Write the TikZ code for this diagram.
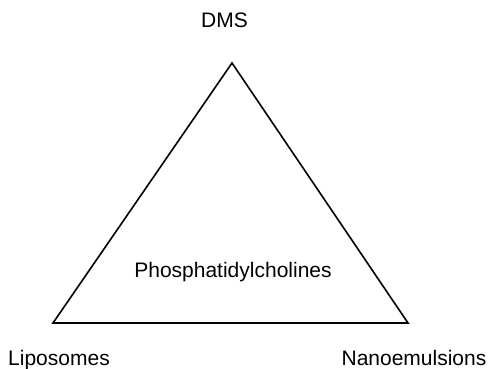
\documentclass[tikz,border=0pt]{standalone}
\usepackage{fontspec}
\setmainfont{Liberation Sans}
\usepackage{tikz}

\begin{document}
\begin{tikzpicture}[x=1pt, y=-1pt,
  corner/.style={font=\fontsize{21}{25}\selectfont, anchor=base, inner sep=0pt},
  side/.style={black, line width=1.6pt, line join=miter}]
  \useasboundingbox (0,0) rectangle (490,369);
  \coordinate (apex) at (232,63);
  \coordinate (baseleft) at (53,323);
  \coordinate (baseright) at (408,323);
  \draw[side] (apex) -- (baseleft) -- (baseright) -- cycle;
  \node[corner] (dms) at (224.5,28) {DMS};
  \node[corner] (lipo) at (59,365) {Liposomes};
  \node[corner] (nano) at (414,365) {Nanoemulsions};
  \node[corner] (pc) at (233,277) {Phosphatidylcholines};
\end{tikzpicture}
\end{document}
